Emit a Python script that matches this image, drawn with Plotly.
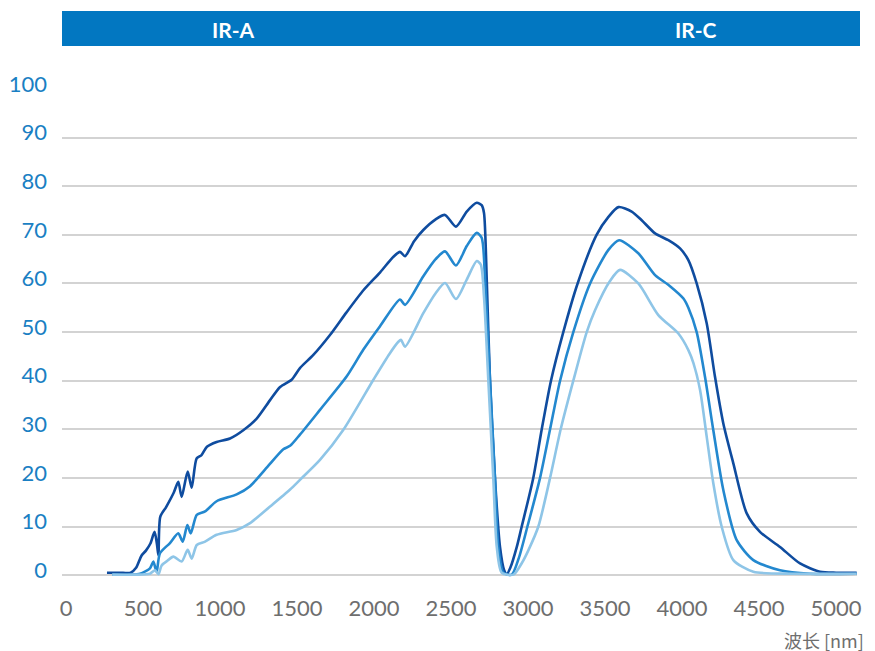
import plotly.graph_objects as go

# ---- data (wavelength nm, relative value) ----
dark_x = [266, 350, 420, 455, 490, 520, 548, 575, 592, 600, 612, 650, 700, 729, 751, 790, 816, 848, 880, 915,
          978, 1065, 1151, 1238, 1325, 1390, 1465, 1519, 1606, 1714, 1820, 1931, 2040, 2126, 2169, 2201, 2260,
          2320, 2400, 2461, 2532, 2602, 2667, 2699, 2714, 2732, 2753, 2786, 2818, 2845, 2862, 2885, 2927, 2959,
          3034, 3089, 3149, 3229, 3322, 3445, 3522, 3587, 3673, 3738, 3825, 3911, 3987, 4041, 4095, 4160, 4214,
          4268, 4333, 4420, 4506, 4636, 4766, 4896, 5000, 5134]
dark_y = [0.5, 0.5, 0.5, 1.5, 4.0, 5.1, 6.5, 8.9, 6.0, 4.1, 12, 14, 17, 19.2, 16.1, 21.3, 18, 24, 24.7, 26.4,
          27.4, 28.1, 29.8, 32.2, 36, 38.7, 40.2, 42.6, 45.3, 49.4, 54, 58.6, 62.3, 65.5, 66.5, 65.6, 68.7,
          71, 73.2, 74.1, 71.7, 74.8, 76.6, 76.1, 74.5, 60.7, 40, 19.5, 5.8, 1.0, 0.2, 1.5, 5.8, 10,
          20, 30, 40, 50, 60, 70, 73.7, 75.7, 74.8, 73, 70.3, 68.9, 67.2, 64.8, 60, 51.8, 40.8,
          31.2, 23, 12.7, 8.9, 5.8, 2.4, 0.7, 0.5, 0.5]

mid_x = [300, 420, 481, 545, 567, 580, 589, 610, 675, 729, 758, 788, 810, 849, 903, 978, 1108, 1195, 1303,
         1411, 1455, 1519, 1649, 1823, 1931, 2039, 2169, 2201, 2320, 2400, 2461, 2532, 2602, 2667, 2699, 2721,
         2753, 2786, 2807, 2840, 2894, 2940, 2996, 3078, 3143, 3208, 3294, 3403, 3522, 3591, 3716, 3825, 3920,
         4009, 4041, 4095, 4149, 4203, 4268, 4355, 4463, 4636, 4831, 5134]
mid_y = [0.1, 0.1, 0.3, 1.4, 2.8, 1.5, 0.7, 4.5, 6.6, 8.6, 6.9, 10.3, 8.6, 12.4, 13.1, 15.2, 16.6, 18.3, 22.1,
         25.9, 26.6, 28.9, 34, 40.9, 46.4, 51.2, 56.7, 55.6, 61.5, 65, 66.6, 63.7, 67.7, 70.4, 69.4, 60.8,
         40.2, 19.6, 5.8, 0.5, 0.1, 3.5, 10, 20, 30, 40, 50, 60, 66.9, 68.9, 66.2, 61.7, 59.5,
         56.9, 55, 50, 40.8, 29.8, 17.5, 7.2, 3.1, 1.0, 0.3, 0.3]

light_x = [300, 450, 545, 578, 600, 621, 660, 697, 751, 790, 816, 849, 903, 978, 1108, 1195, 1325, 1455, 1519,
           1649, 1801, 1996, 2100, 2158, 2175, 2201, 2320, 2400, 2461, 2532, 2602, 2667, 2693, 2714, 2742, 2775,
           2797, 2829, 2905, 2960, 3002, 3067, 3143, 3212, 3294, 3381, 3435, 3532, 3597, 3716, 3846, 3976, 4041,
           4074, 4117, 4160, 4203, 4258, 4333, 4463, 4723, 5134]
light_y = [0.1, 0.1, 0.3, 1.0, 0.2, 2.0, 3.0, 3.8, 2.8, 5.2, 3.4, 6.2, 6.9, 8.3, 9.3, 10.7, 14.1, 17.6, 19.6,
           23.7, 29.9, 40.2, 45.5, 48, 48.4, 47, 53.9, 58, 60.1, 56.8, 60.8, 64.6, 63.9, 57.3, 40.2, 19.6,
           5.8, 0.5, 0.1, 2.5, 5.1, 10, 20, 30, 40, 50, 54.5, 60.5, 62.8, 60, 53.5, 49.7, 46.3,
           43.6, 38.1, 28.5, 18.9, 9.9, 3.1, 0.7, 0.3, 0.3]

x_ticks = [0, 500, 1000, 1500, 2000, 2500, 3000, 3500, 4000, 4500, 5000]
y_ticks = [0, 10, 20, 30, 40, 50, 60, 70, 80, 90, 100]
band_labels = ["IR-A", "IR-C"]
x_title = "波长 [nm]"

colors = ["#0f4c9f", "#2388cf", "#8ec5e7"]

FONT = "Lato, 'Open Sans', sans-serif"

# page body has an 8px margin: figure is 8px smaller and margins shifted accordingly
W, H = 867, 643
ML, MR, MT, MB = 54, 18, 81, 71
PW, PH = W - ML - MR, H - MT - MB   # 795 x 491


def px(x):  # page x -> paper
    return (x - 8 - ML) / PW


def py(y):  # page y -> paper
    return (H - MB - (y - 8)) / PH


fig = go.Figure()
for xs, ys, c in [(dark_x, dark_y, colors[0]), (mid_x, mid_y, colors[1]), (light_x, light_y, colors[2])]:
    fig.add_trace(go.Scatter(x=xs, y=ys, mode="lines",
                             line=dict(color=c, width=2.6, shape="spline", smoothing=0.7),
                             hoverinfo="skip", showlegend=False))

fig.update_layout(
    width=W, height=H,
    margin=dict(l=ML, r=MR, t=MT, b=MB, autoexpand=False),
    plot_bgcolor="white", paper_bgcolor="white",
    showlegend=False,
    xaxis=dict(range=[-26, 5136], tickvals=x_ticks, ticktext=[str(v) for v in x_ticks],
               showgrid=False, zeroline=False, showline=False, ticks="", automargin=False,
               tickfont=dict(family=FONT, size=22, color="#6e6e6e"),
               ticklabelstandoff=13),
    yaxis=dict(range=[-1, 100], tickvals=y_ticks, ticktext=[str(v) for v in y_ticks],
               showgrid=True, gridcolor="#d3d3d3", gridwidth=1.5, automargin=False,
               zeroline=False, showline=False, ticks="",
               tickfont=dict(family=FONT, size=22, color="#1a7fc3"),
               ticklabelstandoff=14, ticklabelshift=-5),
    shapes=[dict(type="rect", xref="paper", yref="paper",
                 x0=px(62), x1=px(860), y0=py(46), y1=py(11),
                 fillcolor="#0277c1", line=dict(width=0), layer="above")],
    annotations=[
        dict(text="<b>" + band_labels[0] + "</b>", xref="paper", yref="paper",
             x=px(233), y=py(29), showarrow=False,
             font=dict(family=FONT, size=21, color="white"), xanchor="center", yanchor="middle"),
        dict(text="<b>" + band_labels[1] + "</b>", xref="paper", yref="paper",
             x=px(696), y=py(29), showarrow=False,
             font=dict(family=FONT, size=21, color="white"), xanchor="center", yanchor="middle"),
        dict(text=x_title, xref="paper", yref="paper",
             x=px(866), y=py(640), showarrow=False,
             font=dict(family="'Noto Sans CJK SC', " + FONT, size=18, color="#6e6e6e"),
             xanchor="right", yanchor="middle"),
    ],
)

fig.write_html("out.html")
